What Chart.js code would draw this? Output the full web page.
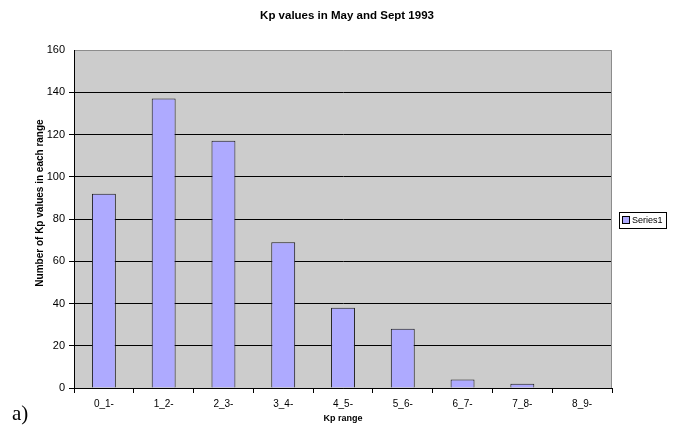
<!DOCTYPE html>
<html>
<head>
<meta charset="utf-8">
<script src="https://cdn.jsdelivr.net/npm/chart.js@4/dist/chart.umd.min.js"></script>
<style>
  html, body { margin: 0; padding: 0; background: #fff; }
  #wrap { width: 681px; height: 431px; }
</style>
</head>
<body>
<div id="wrap"><canvas id="kp" width="681" height="431"></canvas></div>
<script>
// Kp range buckets and how many values fell in each
const kpRanges = ['0_1-', '1_2-', '2_3-', '3_4-', '4_5-', '5_6-', '6_7-', '7_8-', '8_9-'];
const kpCounts = [92, 137, 117, 69, 38, 28, 4, 2, 0];
const seriesName = 'Series1';
const yTicks = [0, 20, 40, 60, 80, 100, 120, 140, 160];

const FONT = '"Liberation Sans", Arial, sans-serif';
const BAR_FILL = '#aeaaff';

// grey plot background plus the titles, the legend box and the "a)" tag
const decor = {
  id: 'decor',
  beforeDraw(chart) {
    const { ctx, chartArea: a } = chart;
    ctx.save();
    ctx.fillStyle = '#cccccc';
    ctx.fillRect(a.left, a.top, a.right - a.left, a.bottom - a.top);
    ctx.restore();
  },
  afterDatasetsDraw(chart) {
    const { ctx, chartArea: a } = chart;
    ctx.save();
    ctx.strokeStyle = '#8c8c8c';
    ctx.lineWidth = 1;
    ctx.beginPath();
    ctx.moveTo(a.left + 1, a.top + 0.5);
    ctx.lineTo(a.right - 0.5, a.top + 0.5);
    ctx.lineTo(a.right - 0.5, a.bottom);
    ctx.stroke();
    ctx.restore();
  },
  afterDraw(chart) {
    const { ctx, chartArea: a } = chart;
    ctx.save();
    ctx.fillStyle = '#000';
    ctx.textAlign = 'center';
    ctx.textBaseline = 'middle';

    ctx.font = 'bold 11.5px ' + FONT;
    ctx.fillText('Kp values in May and Sept 1993', 347, 16);

    ctx.font = 'bold 9px ' + FONT;
    ctx.fillText('Kp range', (a.left + a.right) / 2, 419);

    ctx.save();
    ctx.translate(40, 203);
    ctx.rotate(-Math.PI / 2);
    ctx.font = 'bold 10px ' + FONT;
    ctx.fillText('Number of Kp values in each range', 0, 0);
    ctx.restore();

    // legend
    ctx.strokeStyle = '#000';
    ctx.lineWidth = 1;
    ctx.fillStyle = '#fff';
    ctx.fillRect(619.5, 212.5, 47, 16);
    ctx.strokeRect(619.5, 212.5, 47, 16);
    ctx.fillStyle = BAR_FILL;
    ctx.fillRect(622.5, 216.5, 7, 7);
    ctx.strokeRect(622.5, 216.5, 7, 7);
    ctx.fillStyle = '#000';
    ctx.textAlign = 'left';
    ctx.font = '9px ' + FONT;
    ctx.fillText(seriesName, 632, 221);

    ctx.font = '21px "Liberation Serif", "Times New Roman", serif';
    ctx.fillText('a)', 12, 414);
    ctx.restore();
  }
};

new Chart(document.getElementById('kp'), {
  type: 'bar',
  data: {
    labels: kpRanges,
    datasets: [{
      label: seriesName,
      data: kpCounts,
      backgroundColor: BAR_FILL,
      borderColor: '#1a1a1a',
      borderWidth: 1,
      borderSkipped: 'bottom',
      barPercentage: 0.4,
      categoryPercentage: 1
    }]
  },
  options: {
    responsive: false,
    animation: false,
    layout: { padding: { top: 50, right: 69, left: 0, bottom: 0 } },
    plugins: {
      legend: { display: false },
      title: { display: false },
      tooltip: { enabled: false }
    },
    scales: {
      x: {
        afterFit(s) { s.height = 43; },
        grid: {
          offset: true,
          drawOnChartArea: false,
          drawTicks: true,
          tickLength: 5,
          color: '#000'
        },
        border: { color: '#000', width: 1 },
        ticks: {
          color: '#000',
          font: { family: FONT, size: 10 },
          padding: 5,
          maxRotation: 0,
          autoSkip: false
        }
      },
      y: {
        min: 0,
        max: 160,
        afterFit(s) { s.width = 74; },
        afterBuildTicks(s) { s.ticks = yTicks.map(v => ({ value: v })); },
        grid: {
          // top edge is drawn grey by the decor plugin
          color: c => (c.tick && c.tick.value === 160 ? 'rgba(0,0,0,0)' : '#000'),
          lineWidth: 1,
          drawTicks: true,
          tickLength: 5
        },
        border: { color: '#000', width: 1 },
        ticks: {
          color: '#000',
          font: { family: FONT, size: 11 },
          padding: 4
        }
      }
    }
  },
  plugins: [decor]
});
</script>
</body>
</html>
